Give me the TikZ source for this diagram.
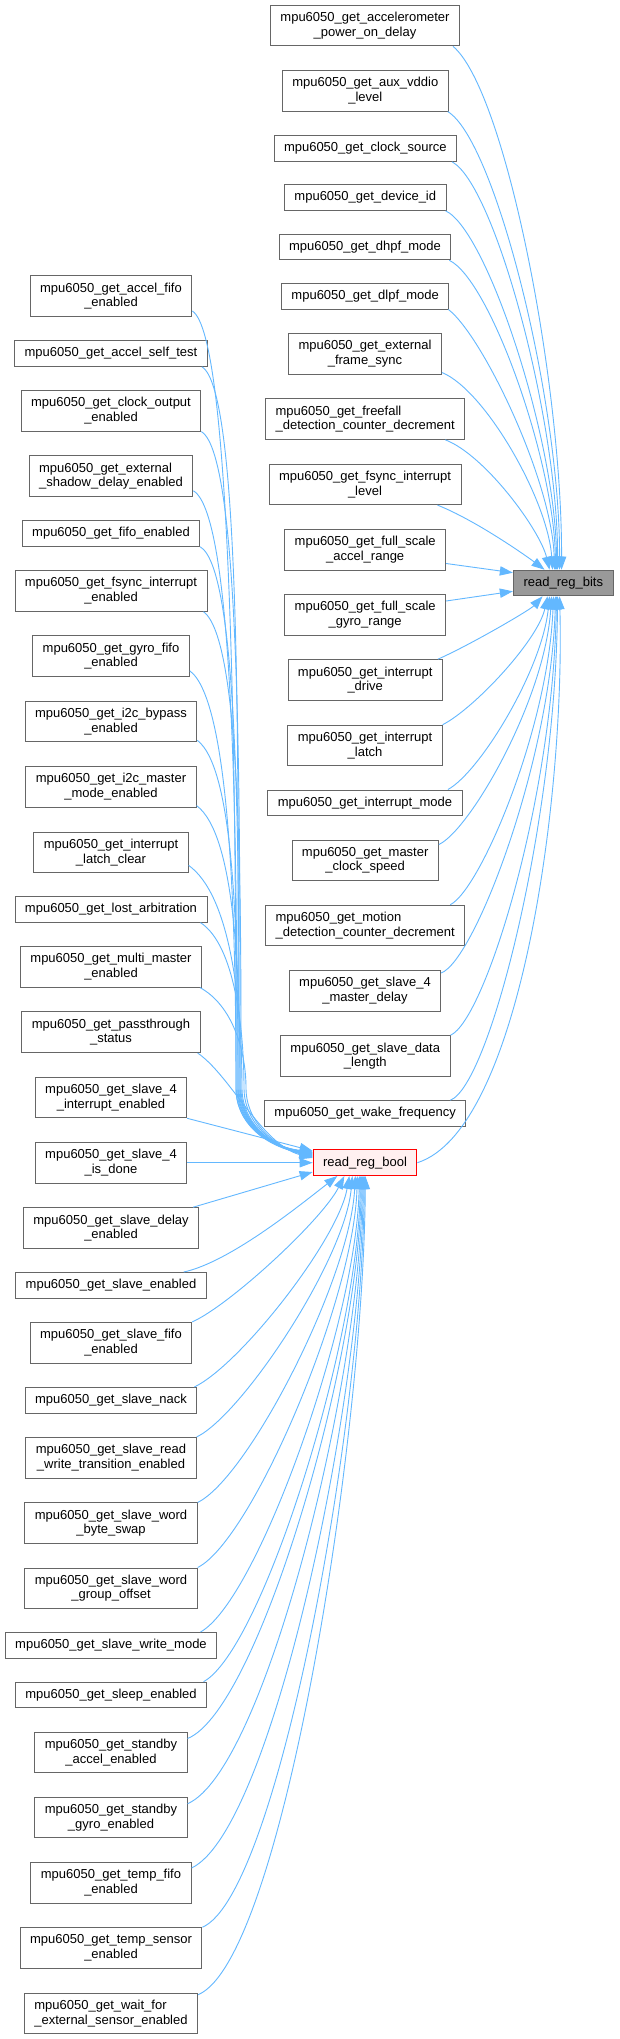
\documentclass[tikz,border=0pt]{standalone}
\usepackage{fontspec}
\setmainfont{Liberation Sans}
\usetikzlibrary{arrows.meta}
\definecolor{edgec}{HTML}{63B8FF}
\definecolor{boxc}{HTML}{666666}
\definecolor{rootc}{HTML}{999999}
\definecolor{curc}{HTML}{FFF0F0}
\newcommand\mpg{mpu6050\_get\_}
\begin{document}
\begin{tikzpicture}[x=1pt,y=-1pt,
  fn/.style={draw=boxc, line width=0.9pt, fill=white, inner xsep=10pt, inner ysep=0pt,
    font=\fontsize{13}{14.6}\selectfont, align=center, minimum height=25.7pt},
  fntwo/.style={fn, minimum height=40.7pt},
  fntwol/.style={fntwo, align=left},
  ed/.style={draw=edgec, line width=0.9pt, -{Triangle[length=13pt,width=9.3pt]}, fill=none},
]
\useasboundingbox (0,0) rectangle (619,2039);
\fill[white] (0,0) rectangle (619,2039);

% targets
\node[fn, fill=rootc, minimum width=100pt] (rb) at (563.3,583) {read\_reg\_bits};
\node[fn, draw=red, fill=curc] (rrb) at (365,1162.7) {read\_reg\_bool};

% right column
\node[fntwo] (R1) at (365,25.5) {\mpg accelerometer\\\_power\_on\_delay};
\node[fntwo] (R2) at (365.3,90.8) {\mpg aux\_vddio\\\_level};
\node[fn] (R3) at (365.3,148.5) {\mpg clock\_source};
\node[fn] (R4) at (365.3,197.5) {\mpg device\_id};
\node[fn] (R5) at (365,247) {\mpg dhpf\_mode};
\node[fn] (R6) at (365.2,296.2) {\mpg dlpf\_mode};
\node[fntwo] (R7) at (365,353.7) {\mpg external\\\_frame\_sync};
\node[fntwol] (R8) at (365.2,419) {\mpg freefall\\\_detection\_counter\_decrement};
\node[fntwo] (R9) at (365,484.3) {\mpg fsync\_interrupt\\\_level};
\node[fntwo] (R10) at (365.2,549.7) {\mpg full\_scale\\\_accel\_range};
\node[fntwo] (R11) at (365.2,614.8) {\mpg full\_scale\\\_gyro\_range};
\node[fntwo] (R12) at (365.2,680) {\mpg interrupt\\\_drive};
\node[fntwo] (R13) at (365,745.5) {\mpg interrupt\\\_latch};
\node[fn] (R14) at (365,802.8) {\mpg interrupt\_mode};
\node[fntwo] (R15) at (365.2,860.3) {\mpg master\\\_clock\_speed};
\node[fntwol] (R16) at (365.2,925.5) {\mpg motion\\\_detection\_counter\_decrement};
\node[fntwo] (R17) at (365,990.8) {\mpg slave\_4\\\_master\_delay};
\node[fntwo] (R18) at (365.3,1056) {\mpg slave\_data\\\_length};
\node[fn] (R19) at (365.2,1113.5) {\mpg wake\_frequency};

% left column
\node[fntwo] (L1) at (111,296.2) {\mpg accel\_fifo\\\_enabled};
\node[fn] (L2) at (111,353.5) {\mpg accel\_self\_test};
\node[fntwo] (L3) at (111,410.8) {\mpg clock\_output\\\_enabled};
\node[fntwol] (L4) at (111,476) {\mpg external\\\_shadow\_delay\_enabled};
\node[fn] (L5) at (111,533.5) {\mpg fifo\_enabled};
\node[fntwo] (L6) at (111,590.8) {\mpg fsync\_interrupt\\\_enabled};
\node[fntwo] (L7) at (111,656) {\mpg gyro\_fifo\\\_enabled};
\node[fntwo] (L8) at (111,721.5) {\mpg i2c\_bypass\\\_enabled};
\node[fntwo] (L9) at (111,786.8) {\mpg i2c\_master\\\_mode\_enabled};
\node[fntwo] (L10) at (111,852.3) {\mpg interrupt\\\_latch\_clear};
\node[fn] (L11) at (111,909.3) {\mpg lost\_arbitration};
\node[fntwo] (L12) at (111,966.8) {\mpg multi\_master\\\_enabled};
\node[fntwo] (L13) at (111,1032.2) {\mpg passthrough\\\_status};
\node[fntwo] (L14) at (111,1097.5) {\mpg slave\_4\\\_interrupt\_enabled};
\node[fntwo] (L15) at (111,1162.7) {\mpg slave\_4\\\_is\_done};
\node[fntwo] (L16) at (111,1228) {\mpg slave\_delay\\\_enabled};
\node[fn] (L17) at (111,1285.3) {\mpg slave\_enabled};
\node[fntwo] (L18) at (111,1342.7) {\mpg slave\_fifo\\\_enabled};
\node[fn] (L19) at (111,1400.3) {\mpg slave\_nack};
\node[fntwo] (L20) at (111,1457.8) {\mpg slave\_read\\\_write\_transition\_enabled};
\node[fntwo] (L21) at (111,1523.2) {\mpg slave\_word\\\_byte\_swap};
\node[fntwo] (L22) at (111,1588.3) {\mpg slave\_word\\\_group\_offset};
\node[fn] (L23) at (111,1645.3) {\mpg slave\_write\_mode};
\node[fn] (L24) at (111,1695) {\mpg sleep\_enabled};
\node[fntwo] (L25) at (111,1752.3) {\mpg standby\\\_accel\_enabled};
\node[fntwo] (L26) at (111,1817.5) {\mpg standby\\\_gyro\_enabled};
\node[fntwo] (L27) at (111,1882.8) {\mpg temp\_fifo\\\_enabled};
\node[fntwo] (L28) at (111,1948) {\mpg temp\_sensor\\\_enabled};
\node[fntwol] (L29) at (111,2013.5) {\mpg wait\_for\\\_external\_sensor\_enabled};

% edges to read_reg_bits, from above
\draw[ed] ([xshift=-7pt]R1.south east) .. controls (505,90) and (562,380) .. ([xshift=48.7pt]rb.north west);
\draw[ed] ([xshift=-1pt]R2.south east) .. controls (495,140) and (560,400) .. ([xshift=46.7pt]rb.north west);
\draw[ed] ([xshift=-5pt]R3.south east) .. controls (495,185) and (558,420) .. ([xshift=44.7pt]rb.north west);
\draw[ed] ([xshift=-1pt]R4.south east) .. controls (487,230) and (556,440) .. ([xshift=43.7pt]rb.north west);
\draw[ed] ([xshift=-2pt]R5.south east) .. controls (490,280) and (554,460) .. ([xshift=42.7pt]rb.north west);
\draw[ed] ([xshift=-1pt]R6.south east) .. controls (482,335) and (552,480) .. ([xshift=41.7pt]rb.north west);
\draw[ed] ([yshift=2pt]R7.south east) .. controls (485,390) and (548,500) .. ([xshift=39.7pt]rb.north west);
\draw[ed] ([xshift=-20pt]R8.south east) .. controls (485,455) and (540,530) .. ([xshift=36.7pt]rb.north west);
\draw[ed] ([xshift=-24pt]R9.south east) .. controls (475,520) and (525,555) .. ([xshift=31.7pt]rb.north west);
\draw[ed] ([yshift=7pt]R10.south east) -- ([yshift=-3pt]rb.north west);
\draw[ed] ([yshift=-7pt]R11.north east) -- ([yshift=5pt]rb.south west);
% edges to read_reg_bits, from below
\draw[ed] ([xshift=-5pt]R12.north east) .. controls (470,645) and (530,610) .. ([xshift=29.7pt]rb.south west);
\draw[ed] (R13.north east) .. controls (475,708) and (538,640) .. ([xshift=34.7pt]rb.south west);
\draw[ed] ([xshift=-14.6pt]R14.north east) .. controls (480,772) and (542,670) .. ([xshift=36.7pt]rb.south west);
\draw[ed] ([yshift=-5pt]R15.north east) .. controls (470,830) and (545,700) .. ([xshift=38.7pt]rb.south west);
\draw[ed] ([xshift=-15pt]R16.north east) .. controls (480,890) and (548,730) .. ([xshift=40.7pt]rb.south west);
\draw[ed] ([yshift=-3pt]R17.north east) .. controls (475,960) and (551,760) .. ([xshift=42.7pt]rb.south west);
\draw[ed] (R18.north east) .. controls (485,1020) and (553,800) .. ([xshift=43.7pt]rb.south west);
\draw[ed] ([xshift=-16pt]R19.north east) .. controls (490,1085) and (556,820) .. ([xshift=44.7pt]rb.south west);
\draw[ed] (rrb.east) .. controls (520,1130) and (565,800) .. ([xshift=46.7pt]rb.south west);

% edges to read_reg_bool, from above
\draw[ed] ([yshift=6pt]L1.south east) .. controls (232,335) and (236,775) .. (236,1088) .. controls (236,1122) and (264,1146) .. ([yshift=-2.5pt]rrb.north west);
\draw[ed] ([xshift=-6pt]L2.south east) .. controls (243,390) and (238,800) .. (238,1088) .. controls (238,1122) and (266,1146) .. ([yshift=-3pt]rrb.north west);
\draw[ed] (L3.south east) .. controls (242,455) and (240,820) .. (240,1088) .. controls (240,1122) and (268,1146) .. ([yshift=-3.5pt]rrb.north west);
\draw[ed] ([yshift=6pt]L4.south east) .. controls (235,515) and (237,850) .. (237,1088) .. controls (237,1122) and (265,1146) .. ([yshift=-4pt]rrb.north west);
\draw[ed] (L5.south east) .. controls (240,570) and (239,870) .. (239,1088) .. controls (239,1122) and (267,1146) .. ([yshift=-4.5pt]rrb.north west);
\draw[ed] ([xshift=-4pt]L6.south east) .. controls (242,640) and (241,900) .. (241,1088) .. controls (241,1122) and (269,1146) .. ([yshift=-5pt]rrb.north west);
\draw[ed] ([yshift=6pt]L7.south east) .. controls (230,700) and (236,920) .. (236,1088) .. controls (236,1122) and (264,1146) .. ([yshift=-5.5pt]rrb.north west);
\draw[ed] ([yshift=2pt]L8.south east) .. controls (236,770) and (238,950) .. (238,1088) .. controls (238,1122) and (266,1146) .. ([yshift=-6pt]rrb.north west);
\draw[ed] ([yshift=2pt]L9.south east) .. controls (236,835) and (240,980) .. (240,1088) .. controls (240,1122) and (268,1146) .. ([yshift=-6.5pt]rrb.north west);
\draw[ed] ([yshift=7.7pt]L10.south east) .. controls (230,895) and (242,1000) .. (242,1088) .. controls (242,1122) and (270,1146) .. ([yshift=-7pt]rrb.north west);
\draw[ed] ([xshift=-7pt]L11.south east) .. controls (235,945) and (244,1030) .. (244,1088) .. controls (244,1122) and (272,1146) .. ([yshift=-7.5pt]rrb.north west);
\draw[ed] ([xshift=-2pt]L12.south east) .. controls (232,1005) and (246,1050) .. (246,1088) .. controls (246,1122) and (274,1146) .. ([yshift=-8pt]rrb.north west);
\draw[ed] ([xshift=-3pt]L13.south east) .. controls (230,1075) and (262,1145) .. ([yshift=-8.5pt]rrb.north west);
\draw[ed] (L14.south east) -- ([yshift=-1.5pt]rrb.north west);
\draw[ed] (L15.east) -- (rrb.west);
\draw[ed] ([xshift=-6pt]L16.north east) -- ([yshift=4pt]rrb.south west);
% edges to read_reg_bool, from below
\draw[ed] ([xshift=-23pt]L17.north east) .. controls (230,1262) and (300,1205) .. ([xshift=24.7pt]rrb.south west);
\draw[ed] (L18.north east) .. controls (230,1305) and (322,1220) .. ([xshift=31.7pt]rrb.south west);
\draw[ed] ([xshift=-3pt]L19.north east) .. controls (240,1365) and (338,1240) .. ([xshift=36.7pt]rrb.south west);
\draw[ed] (L20.north east) .. controls (242,1415) and (345,1260) .. ([xshift=39.7pt]rrb.south west);
\draw[ed] (L21.north east) .. controls (248,1478) and (350,1280) .. ([xshift=42.7pt]rrb.south west);
\draw[ed] (L22.north east) .. controls (252,1540) and (354,1300) .. ([xshift=44.7pt]rrb.south west);
\draw[ed] ([xshift=-16.7pt]L23.north east) .. controls (258,1600) and (357,1320) .. ([xshift=46.7pt]rrb.south west);
\draw[ed] ([xshift=-3.6pt]L24.north east) .. controls (262,1650) and (359,1340) .. ([xshift=47.7pt]rrb.south west);
\draw[ed] ([yshift=-7pt]L25.north east) .. controls (258,1710) and (360,1360) .. ([xshift=48.7pt]rrb.south west);
\draw[ed] ([yshift=-7pt]L26.north east) .. controls (265,1770) and (361,1380) .. ([xshift=49.7pt]rrb.south west);
\draw[ed] ([yshift=-6pt]L27.north east) .. controls (272,1830) and (362,1400) .. ([xshift=50.7pt]rrb.south west);
\draw[ed] (L28.north east) .. controls (278,1895) and (363,1420) .. ([xshift=51.7pt]rrb.south west);
\draw[ed] ([yshift=-2pt]L29.north east) .. controls (282,1960) and (364,1440) .. ([xshift=52.7pt]rrb.south west);
\end{tikzpicture}
\end{document}
